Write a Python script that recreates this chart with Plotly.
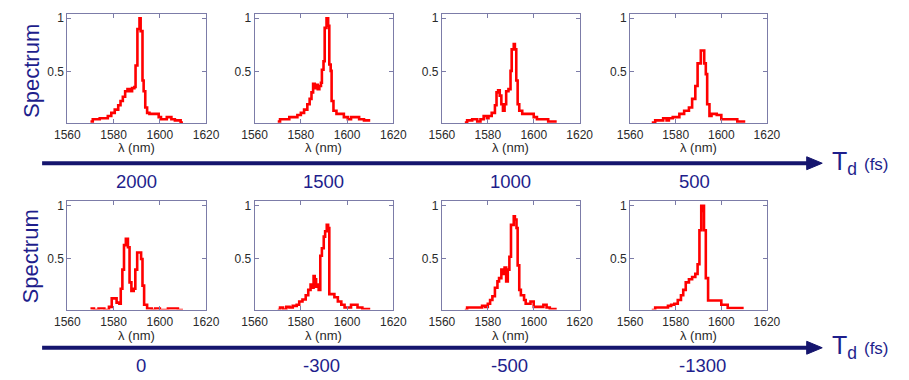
import plotly.graph_objects as go

# ---------------- data ----------------
td_top = ["2000", "1500", "1000", "500"]
td_bottom = ["0", "-300", "-500", "-1300"]

wl_2000 = [1570, 1571, 1574, 1576, 1577.5, 1579, 1580.5, 1582, 1583, 1584, 1585, 1586, 1587, 1588, 1589, 1589.5,
           1590.3, 1591.2, 1591.7, 1592.5, 1593, 1593.7, 1594.5, 1595.5, 1599.5, 1600.5, 1602, 1603, 1605, 1606.5,
           1608, 1609, 1610]
sp_2000 = [0.04, 0.06, 0.07, 0.07, 0.09, 0.12, 0.15, 0.19, 0.23, 0.27, 0.32, 0.34, 0.32, 0.35, 0.36, 0.56,
           0.9, 1.0, 0.88, 0.42, 0.32, 0.17, 0.12, 0.11, 0.08, 0.06, 0.06, 0.08, 0.06, 0.05,
           0.05, 0.03, 0.03]

wl_1500 = [1570, 1571, 1575, 1578.5, 1580, 1581.4, 1582.8, 1583.8, 1584.6, 1585.3, 1586, 1586.6, 1587.3, 1588,
           1588.7, 1589.1, 1589.8, 1590.3, 1591.1, 1591.8, 1592.3, 1592.9, 1593.3, 1594.1, 1595.4, 1598.6, 1600.3,
           1601.7, 1605.2, 1607.3, 1610]
sp_1500 = [0.04, 0.06, 0.08, 0.1, 0.12, 0.15, 0.2, 0.25, 0.31, 0.39, 0.35, 0.38, 0.34, 0.37,
           0.4, 0.52, 0.6, 0.91, 1.0, 0.93, 0.57, 0.51, 0.23, 0.14, 0.11, 0.08, 0.06,
           0.08, 0.06, 0.05, 0.05]

wl_1000 = [1570, 1571, 1573.2, 1575.4, 1576.8, 1578.2, 1579.6, 1580.3, 1581.7, 1583.1, 1583.8, 1584.5, 1585.2,
           1585.9, 1586.6, 1587.3, 1588, 1589, 1589.9, 1590.4, 1591.3, 1591.8, 1592.4, 1593, 1593.7, 1595, 1600,
           1601.4, 1606.3, 1610]
sp_1000 = [0.03, 0.05, 0.06, 0.04, 0.06, 0.09, 0.07, 0.09, 0.12, 0.19, 0.31, 0.33, 0.28,
           0.2, 0.14, 0.2, 0.32, 0.34, 0.51, 0.71, 0.76, 0.71, 0.42, 0.2, 0.14, 0.11, 0.08,
           0.06, 0.04, 0.04]

wl_500 = [1569.5, 1571, 1574.5, 1576, 1577, 1578.7, 1581.6, 1583.7, 1585.8, 1587.2, 1588.6, 1589.6, 1591,
          1592.5, 1593.2, 1593.8, 1594.8, 1595.7, 1598, 1600, 1602, 1607, 1610.5]
sp_500 = [0.03, 0.05, 0.07, 0.05, 0.07, 0.08, 0.11, 0.14, 0.17, 0.25, 0.37, 0.58, 0.7,
          0.58, 0.48, 0.2, 0.09, 0.11, 0.1, 0.06, 0.06, 0.04, 0.04]

wl_0 = [1570, 1571.5, 1573.5, 1576, 1578, 1579.2, 1581.3, 1582.5, 1583.1, 1583.8, 1584.5, 1585.3, 1586.2,
        1586.9, 1587.7, 1588.7, 1589.4, 1590.2, 1591.9, 1592.5, 1593.2, 1594.5, 1596.5, 1598, 1600, 1603.5,
        1607.8, 1610]
sp_0 = [0.035, 0.02, 0.035, 0.02, 0.05, 0.13, 0.09, 0.08, 0.22, 0.4, 0.63, 0.69, 0.61,
        0.28, 0.2, 0.22, 0.4, 0.56, 0.5, 0.25, 0.07, 0.035, 0.02, 0.035, 0.02, 0.035,
        0.02, 0.02]

wl_m300 = [1570, 1571, 1572.3, 1573.7, 1575.1, 1576.5, 1578.2, 1579.3, 1580.7, 1582.1, 1583.2, 1584.2, 1584.9,
           1585.5, 1586, 1586.6, 1587.3, 1587.7, 1588.4, 1589.1, 1589.9, 1590.5, 1591.2, 1591.8, 1592.3, 1594.5,
           1596, 1597.5, 1598.9, 1601.7, 1604.5, 1606.6, 1610]
sp_m300 = [0.02, 0.045, 0.025, 0.05, 0.045, 0.06, 0.07, 0.1, 0.12, 0.16, 0.21, 0.26, 0.23,
           0.34, 0.31, 0.24, 0.26, 0.21, 0.53, 0.6, 0.71, 0.76, 0.82, 0.79, 0.17, 0.14,
           0.1, 0.07, 0.045, 0.07, 0.045, 0.03, 0.03]

wl_m500 = [1570, 1571, 1576.8, 1577.5, 1578.9, 1580, 1581, 1582, 1583.1, 1584.2, 1584.9, 1585.9, 1586.9,
           1587.3, 1588, 1588.7, 1589.4, 1590.1, 1591.3, 1591.8, 1592.5, 1593, 1593.7, 1594.4, 1595.8, 1596.5,
           1598.6, 1600, 1604.2, 1605.6, 1607, 1610]
sp_m500 = [0.02, 0.045, 0.045, 0.06, 0.05, 0.08, 0.115, 0.15, 0.23, 0.29, 0.32, 0.4, 0.36,
           0.42, 0.29, 0.4, 0.52, 0.82, 0.9, 0.87, 0.79, 0.44, 0.21, 0.16, 0.115, 0.08,
           0.1, 0.05, 0.07, 0.045, 0.03, 0.03]

wl_m1300 = [1569.5, 1571, 1576.6, 1578, 1579.4, 1580.9, 1582.3, 1583.3, 1584.4, 1585.8, 1587.2, 1588.6, 1589.6,
            1590.4, 1591.2, 1591.5, 1591.8, 1592.4, 1593.2, 1594.2, 1600, 1602.8, 1609.8]
sp_m1300 = [0.02, 0.045, 0.06, 0.07, 0.08, 0.115, 0.16, 0.21, 0.28, 0.31, 0.33, 0.36, 0.45,
            0.77, 1.0, 0.95, 1.0, 0.77, 0.32, 0.11, 0.07, 0.04, 0.04]

x_ticks = [1560, 1580, 1600, 1620]
y_ticks = [0.5, 1]
y_tick_text = ["0.5", "1"]

series = [
    (wl_2000, sp_2000), (wl_1500, sp_1500), (wl_1000, sp_1000), (wl_500, sp_500),
    (wl_0, sp_0), (wl_m300, sp_m300), (wl_m500, sp_m500), (wl_m1300, sp_m1300),
]

# ---------------- layout geometry ----------------
W, H = 909, 380
FONT = "Liberation Sans, Arial, sans-serif"
NAVY = "#15156e"
TEXT_NAVY = "#1e1e8c"
AXIS_COL = "#7c7ca8"
TICK_COL = "#2a2a2a"
RED = "#ff0000"

col_px = [(56, 199), (249, 392), (442, 584), (636, 777)]
row_px = [(11, 121), (200, 309)]


def px(x):
    return x / W


def py(y):
    return 1 - y / H


fig = go.Figure()
layout = {}
for i, (wl, sp) in enumerate(series):
    r, c = divmod(i, 4)
    n = i + 1
    xname = "xaxis" if n == 1 else f"xaxis{n}"
    yname = "yaxis" if n == 1 else f"yaxis{n}"
    xa = "x" if n == 1 else f"x{n}"
    ya = "y" if n == 1 else f"y{n}"
    fig.add_trace(go.Scatter(x=wl, y=sp, mode="lines", line=dict(color=RED, width=2.6, shape="hv"),
                             xaxis=xa, yaxis=ya, showlegend=False, hoverinfo="x+y"))
    x0, x1 = col_px[c]
    y0, y1 = row_px[r]
    common = dict(showline=True, linecolor=AXIS_COL, linewidth=1, mirror="ticks", ticks="inside",
                  ticklen=4, tickcolor=AXIS_COL, showgrid=False, zeroline=False,
                  tickfont=dict(family=FONT, size=12, color=TICK_COL))
    layout[xname] = dict(domain=[px(x0), px(x1)], range=[1560, 1620], tickvals=x_ticks, anchor=ya,
                         ticklabelstandoff=1, **common)
    layout[yname] = dict(domain=[py(y1), py(y0)], range=[0.025, 1.04], tickvals=y_ticks,
                         ticktext=y_tick_text, anchor=xa, **common)


def note(x, y, text, size, color, angle=0, xanchor="center"):
    return dict(x=px(x), y=py(y), xref="paper", yref="paper", text=text, textangle=angle,
                xanchor=xanchor, yanchor="middle", showarrow=False, borderpad=0,
                font=dict(family=FONT, size=size, color=color))


annotations = []
# Spectrum labels
for yc in (68, 255):
    annotations.append(note(19, yc, "Spectrum", 22, TEXT_NAVY, angle=-90))
# lambda labels
for r, yl in enumerate((146, 335)):
    for c in range(4):
        x0, x1 = col_px[c]
        annotations.append(note((x0 + x1) / 2, yl, "λ (nm)", 13, TICK_COL))
# delay values
top_x = [127, 320, 513, 702]
bot_x = [132, 318, 512, 711]
for lab, xc in zip(td_top, top_x):
    annotations.append(note(xc, 180, lab, 18.5, TEXT_NAVY))
for lab, xc in zip(td_bottom, bot_x):
    annotations.append(note(xc, 365, lab, 18.5, TEXT_NAVY))
# Td (fs) labels
for yc in (161, 347):
    annotations.append(note(843, yc, "T<sub>d</sub> <span style='font-size:17px'>(fs)</span>", 25, TEXT_NAVY,
                            xanchor="left"))

shapes = []
for ya_px in (161.5, 347.5):
    shapes.append(dict(type="line", xref="paper", yref="paper", x0=px(30), x1=px(820), y0=py(ya_px),
                       y1=py(ya_px), line=dict(color=NAVY, width=4)))
    path = (f"M {px(818)} {py(ya_px - 6.5)} L {px(834)} {py(ya_px)} L {px(818)} {py(ya_px + 6.5)} Z")
    shapes.append(dict(type="path", xref="paper", yref="paper", path=path, fillcolor=NAVY,
                       line=dict(color=NAVY, width=1)))

fig.update_layout(width=W, height=H, margin=dict(l=0, r=0, t=0, b=0), paper_bgcolor="white",
                  plot_bgcolor="white", annotations=annotations, shapes=shapes, **layout)

fig.write_html("out.html")
